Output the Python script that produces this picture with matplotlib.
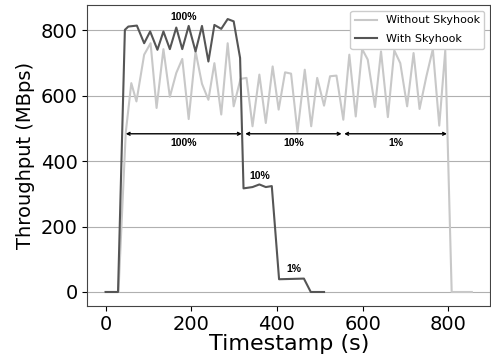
import matplotlib
matplotlib.use("Agg")
import matplotlib.pyplot as plt

# Without Skyhook (light gray)
t_without = [0, 30, 47, 60, 72, 90, 105, 119, 135, 150, 165, 179, 194, 210, 225, 240,
             254, 270, 285, 299, 315, 329, 343, 359, 374, 390, 404, 419, 433, 448,
             465, 480, 494, 510, 524, 539, 555, 569, 584, 599, 612, 629, 643, 659,
             674, 688, 704, 719, 733, 749, 764, 779, 793, 808, 855]
v_without = [0, 0, 487, 639, 583, 726, 761, 563, 743, 597, 670, 713, 529, 736, 637, 588,
             700, 543, 761, 568, 652, 655, 507, 665, 517, 690, 558, 672, 668, 489,
             680, 507, 655, 570, 660, 662, 527, 726, 537, 743, 711, 566, 736, 535,
             739, 700, 568, 731, 560, 660, 743, 509, 739, 0, 0]

# With Skyhook (dark gray)
t_with = [0, 29, 45, 53, 73, 90, 104, 121, 135, 150, 165, 179, 194, 210, 225, 240,
          254, 270, 285, 299, 314, 322, 343, 359, 374, 388, 405, 463, 479, 510]
v_with = [0, 0, 802, 812, 815, 761, 797, 741, 797, 743, 809, 743, 814, 736, 814, 705,
          817, 805, 835, 828, 716, 317, 321, 329, 321, 324, 39, 41, 0, 0]

# Phase spans (start, end, label)
span_starts = [47, 326, 557]
span_ends = [318, 551, 797]
span_labels = ["100%", "10%", "1%"]
span_y = 484

# Labels near the Skyhook line
note_t = [182, 361, 439]
note_v = [840, 356, 69]
note_text = ["100%", "10%", "1%"]

fig = plt.figure(figsize=(4.91, 3.6), dpi=100)
ax = fig.add_axes([0.178, 0.151, 0.82, 0.834])

ax.plot(t_without, v_without, color="#c8c8c8", lw=1.5, label="Without Skyhook")
ax.plot(t_with, v_with, color="#555555", lw=1.5, label="With Skyhook")

for s, e, lab in zip(span_starts, span_ends, span_labels):
    ax.annotate("", xy=(s, span_y), xytext=(e, span_y),
                arrowprops=dict(arrowstyle="<->", color="black", lw=1.0,
                                mutation_scale=5, shrinkA=0, shrinkB=0))
    ax.text((s + e) / 2, span_y - 12, lab, ha="center", va="top",
            fontsize=7.5, fontweight="bold", family="Liberation Sans")

for t, v, lab in zip(note_t, note_v, note_text):
    ax.text(t, v, lab, ha="center", va="center", fontsize=7.5,
            fontweight="bold", family="Liberation Sans")

ax.set_xlim(-42.5, 897.5)
ax.set_ylim(-41.75, 876.75)
ax.set_xticks([0, 200, 400, 600, 800])
ax.set_yticks([0, 200, 400, 600, 800])
ax.tick_params(labelsize=14)
ax.yaxis.grid(True, color="#b0b0b0", lw=0.8)
ax.set_axisbelow(True)
for sp in ax.spines.values():
    sp.set_color("#444444")
ax.set_xlabel("Timestamp (s)", fontsize=16, labelpad=0)
ax.set_ylabel("Throughput (MBps)", fontsize=14)
ax.legend(loc="upper right", fontsize=8, framealpha=1, labelspacing=0.8)

fig.savefig("out.png", dpi=100)
